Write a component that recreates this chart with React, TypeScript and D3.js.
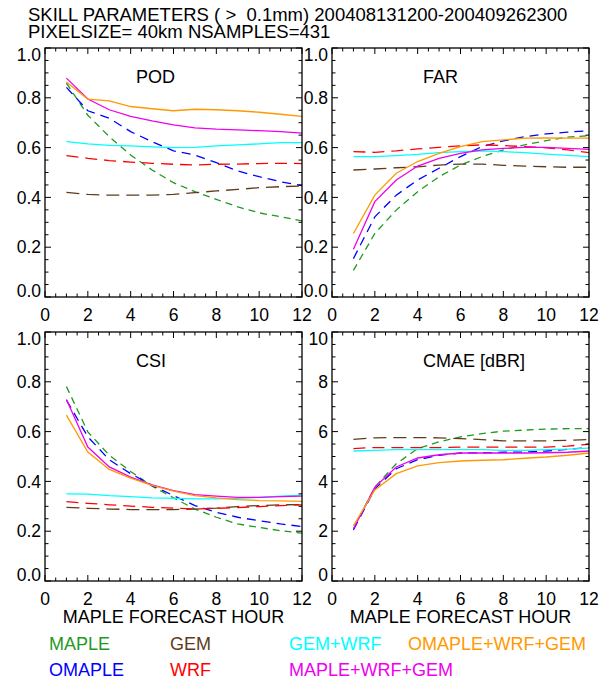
import React from "react";
import * as d3 from "d3";

const hours = [1, 2, 3, 4, 5, 6, 7, 8, 9, 10, 11, 12];
const hourTicks = [0, 2, 4, 6, 8, 10, 12];
const unitTicks = [0, 0.2, 0.4, 0.6, 0.8, 1.0];
const cmaeTicks = [0, 2, 4, 6, 8, 10];

const seriesNames = ["MAPLE", "OMAPLE", "GEM", "WRF", "GEM+WRF", "MAPLE+WRF+GEM", "OMAPLE+WRF+GEM"];
const seriesColors = ["#1f9a1f", "#0000ff", "#5e3c1c", "#ff0000", "#00ffff", "#ee00ee", "#ff9900"];
const seriesDashes = ["7,5", "9,6", "13,7", "12,7", null, null, null];

// POD
const podMaple = [0.859, 0.73, 0.644, 0.57, 0.51, 0.459, 0.423, 0.392, 0.362, 0.338, 0.322, 0.306];
const podOmaple = [0.842, 0.748, 0.718, 0.664, 0.624, 0.587, 0.57, 0.54, 0.506, 0.483, 0.463, 0.447];
const podGem = [0.42, 0.412, 0.409, 0.409, 0.409, 0.412, 0.419, 0.426, 0.432, 0.439, 0.443, 0.446];
const podWrf = [0.568, 0.557, 0.548, 0.542, 0.537, 0.533, 0.53, 0.533, 0.534, 0.536, 0.537, 0.536];
const podGemWrf = [0.624, 0.615, 0.609, 0.607, 0.603, 0.6, 0.601, 0.607, 0.611, 0.615, 0.62, 0.62];
const podMapleWrfGem = [0.879, 0.795, 0.752, 0.725, 0.707, 0.691, 0.679, 0.674, 0.671, 0.668, 0.664, 0.658];
const podOmapleWrfGem = [0.863, 0.795, 0.788, 0.765, 0.756, 0.748, 0.754, 0.752, 0.748, 0.742, 0.734, 0.725];

// FAR
const farMaple = [0.107, 0.255, 0.349, 0.423, 0.483, 0.53, 0.564, 0.591, 0.611, 0.628, 0.642, 0.648];
const farOmaple = [0.154, 0.322, 0.409, 0.47, 0.517, 0.564, 0.604, 0.627, 0.644, 0.655, 0.662, 0.668];
const farGem = [0.51, 0.514, 0.519, 0.523, 0.53, 0.534, 0.534, 0.529, 0.526, 0.523, 0.521, 0.521];
const farWrf = [0.584, 0.581, 0.587, 0.595, 0.601, 0.607, 0.611, 0.608, 0.604, 0.599, 0.591, 0.58];
const farGemWrf = [0.564, 0.564, 0.568, 0.573, 0.58, 0.584, 0.587, 0.584, 0.58, 0.574, 0.569, 0.564];
const farMapleWrfGem = [0.192, 0.383, 0.47, 0.526, 0.557, 0.577, 0.591, 0.597, 0.601, 0.601, 0.597, 0.593];
const farOmapleWrfGem = [0.255, 0.409, 0.497, 0.544, 0.577, 0.604, 0.624, 0.631, 0.638, 0.639, 0.638, 0.638];

// CSI
const csiMaple = [0.781, 0.599, 0.505, 0.44, 0.381, 0.334, 0.289, 0.256, 0.229, 0.215, 0.202, 0.192];
const csiOmaple = [0.727, 0.579, 0.487, 0.431, 0.384, 0.343, 0.303, 0.276, 0.256, 0.242, 0.229, 0.219];
const csiGem = [0.296, 0.292, 0.289, 0.287, 0.287, 0.287, 0.289, 0.293, 0.299, 0.303, 0.306, 0.307];
const csiWrf = [0.319, 0.312, 0.306, 0.301, 0.296, 0.293, 0.289, 0.292, 0.295, 0.299, 0.303, 0.306];
const csiGemWrf = [0.35, 0.349, 0.343, 0.339, 0.334, 0.332, 0.33, 0.33, 0.332, 0.336, 0.341, 0.345];
const csiMapleWrfGem = [0.729, 0.538, 0.458, 0.417, 0.386, 0.363, 0.347, 0.341, 0.336, 0.336, 0.339, 0.341];
const csiOmapleWrfGem = [0.666, 0.518, 0.448, 0.413, 0.384, 0.361, 0.343, 0.334, 0.327, 0.323, 0.322, 0.32];

// CMAE [dBR]
const cmaeMaple = [2.09, 3.77, 4.71, 5.32, 5.59, 5.79, 5.92, 6.02, 6.06, 6.1, 6.12, 6.12];
const cmaeOmaple = [2.05, 3.7, 4.51, 4.87, 5.05, 5.14, 5.15, 5.17, 5.18, 5.22, 5.29, 5.36];
const cmaeGem = [5.69, 5.75, 5.76, 5.76, 5.75, 5.72, 5.68, 5.63, 5.63, 5.63, 5.65, 5.68];
const cmaeWrf = [5.32, 5.36, 5.36, 5.36, 5.36, 5.38, 5.38, 5.38, 5.38, 5.38, 5.42, 5.49];
const cmaeGemWrf = [5.22, 5.25, 5.28, 5.28, 5.28, 5.28, 5.28, 5.25, 5.25, 5.28, 5.3, 5.34];
const cmaeMapleWrfGem = [2.09, 3.77, 4.58, 4.94, 5.07, 5.14, 5.14, 5.14, 5.14, 5.15, 5.17, 5.22];
const cmaeOmapleWrfGem = [2.22, 3.66, 4.31, 4.62, 4.75, 4.82, 4.85, 4.87, 4.93, 4.98, 5.05, 5.14];

const FONT = "'Liberation Sans', Arial, Helvetica, sans-serif";
const PW = 257;
const PH = 249;

function Panel({ left, top, title, yTicks, yFmt, series, xTitle }) {
  const x = d3.scaleLinear().domain([0, 12]).range([left, left + PW]);
  const yMax = yTicks[yTicks.length - 1];
  const y = d3.scaleLinear().domain([0, yMax]).range([top + PH, top]);
  const line = d3.line<number>().x((d, i) => x(hours[i])).y(d => y(d));

  const xMinor = d3.range(0, 12.001, 0.5);
  const yStep = (yTicks[1] - yTicks[0]) / 4;
  const yMinor = d3.range(0, yMax + yStep / 2, yStep);
  const isMajorX = v => Math.abs(v / 2 - Math.round(v / 2)) < 1e-6;
  const isMajorY = v => yTicks.some(t => Math.abs(t - v) < 1e-6);
  const cap = 12.5;

  return (
    <g>
      {series.map((s, i) => (
        <path key={i} d={line(s)} fill="none" stroke={seriesColors[i]} strokeWidth={1.3}
          strokeDasharray={seriesDashes[i] || undefined} />
      ))}
      <rect x={left} y={top} width={PW} height={PH} fill="none" stroke="#000" strokeWidth={1.3} />
      {xMinor.map((v, i) => {
        const len = isMajorX(v) ? 6 : 3.5;
        return (
          <g key={"x" + i} stroke="#000" strokeWidth={1}>
            <line x1={x(v)} x2={x(v)} y1={top + PH} y2={top + PH - len} />
            <line x1={x(v)} x2={x(v)} y1={top} y2={top + len} />
          </g>
        );
      })}
      {yMinor.map((v, i) => {
        const len = isMajorY(v) ? 6 : 3.5;
        return (
          <g key={"y" + i} stroke="#000" strokeWidth={1}>
            <line x1={left} x2={left + len} y1={y(v)} y2={y(v)} />
            <line x1={left + PW} x2={left + PW - len} y1={y(v)} y2={y(v)} />
          </g>
        );
      })}
      {yTicks.map((v, i) => {
        let by = y(v) + cap / 2;
        if (i === 0) by = y(v);
        if (i === yTicks.length - 1) by = y(v) + cap;
        return (
          <text key={"yl" + i} x={left - 4} y={by} textAnchor="end" fontSize={17.5}>{yFmt(v)}</text>
        );
      })}
      {hourTicks.map((v, i) => (
        <text key={"xl" + i} x={x(v)} y={top + PH + 24} textAnchor="middle" fontSize={17.5}>{v}</text>
      ))}
      <text x={left + 91} y={top + 35} fontSize={18}>{title}</text>
      {xTitle && (
        <text x={left + PW / 2} y={top + PH + 42} textAnchor="middle" fontSize={18}>MAPLE FORECAST HOUR</text>
      )}
    </g>
  );
}

export default function App() {
  const fmt1 = d3.format(".1f");
  const fmt0 = d3.format("d");
  const legendCols = [49, 170, 289, 408];
  const legendSlots = [[0, 0], [0, 1], [1, 0], [1, 1], [2, 0], [2, 1], [3, 0]];
  const rowY = [650, 676];
  return (
    <svg width={608} height={680} style={{ position: "absolute", left: 0, top: 0, background: "#fff" }}
      fontFamily={FONT}>
      <text x={28} y={20.5} fontSize={18.5} style={{ whiteSpace: "pre" }}>
        {"SKILL PARAMETERS ( >  0.1mm) 200408131200-200409262300"}
      </text>
      <text x={28} y={37.5} fontSize={18.5}>PIXELSIZE= 40km NSAMPLES=431</text>
      <Panel left={45} top={48} title="POD" yTicks={unitTicks} yFmt={fmt1}
        series={[podMaple, podOmaple, podGem, podWrf, podGemWrf, podMapleWrfGem, podOmapleWrfGem]} />
      <Panel left={332} top={48} title="FAR" yTicks={unitTicks} yFmt={fmt1}
        series={[farMaple, farOmaple, farGem, farWrf, farGemWrf, farMapleWrfGem, farOmapleWrfGem]} />
      <Panel left={45} top={332} title="CSI" yTicks={unitTicks} yFmt={fmt1} xTitle
        series={[csiMaple, csiOmaple, csiGem, csiWrf, csiGemWrf, csiMapleWrfGem, csiOmapleWrfGem]} />
      <Panel left={332} top={332} title="CMAE [dBR]" yTicks={cmaeTicks} yFmt={fmt0} xTitle
        series={[cmaeMaple, cmaeOmaple, cmaeGem, cmaeWrf, cmaeGemWrf, cmaeMapleWrfGem, cmaeOmapleWrfGem]} />
      {seriesNames.map((name, i) => {
        const [c, r] = legendSlots[i];
        return (
          <text key={i} x={legendCols[c]} y={rowY[r]} fontSize={18} fill={seriesColors[i]}>{name}</text>
        );
      })}
    </svg>
  );
}
